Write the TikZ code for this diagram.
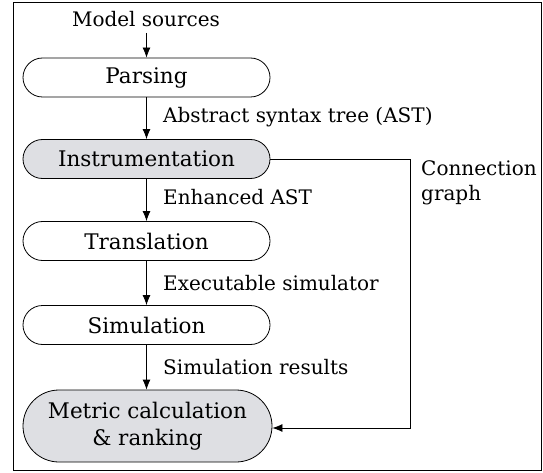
\documentclass[tikz,border=0pt]{standalone}
\usepackage{fontspec}
\setmainfont{DejaVu Serif}
\usetikzlibrary{arrows.meta}
\definecolor{boxgray}{RGB}{222,223,227}
\begin{document}
\begin{tikzpicture}[x=1pt,y=-1pt,
  font=\fontsize{20}{25}\selectfont,
  stage/.style={draw,rounded corners=19.5pt,minimum width=247pt,minimum height=39pt,inner sep=0pt,line width=0.8pt,font=\fontsize{21.5}{27}\selectfont},
  stagehi/.style={stage,fill=boxgray},
  flow/.style={-{Latex[length=10pt,width=8pt]},line width=0.8pt},
  lab/.style={anchor=west,inner sep=0pt}]
\useasboundingbox (0,0) rectangle (543,473);
\draw[line width=0.9pt] (13,2) rectangle (541,470);
\node[inner sep=0pt] (src) at (146,19) {Model sources};
\node[stage] (pars) at (146.5,77.5) {Parsing};
\node[stagehi] (inst) at (146.5,159) {Instrumentation};
\node[stage] (trans) at (146.5,241) {Translation};
\node[stage] (sim) at (146.5,325) {Simulation};
\node[stagehi,minimum width=249pt,minimum height=72pt,rounded corners=36pt,align=center] (met) at (147.5,426) {Metric calculation\\\& ranking};
\coordinate (top) at (146.5,33);
\draw[flow] (top) -- (pars.north);
\draw[flow] (pars) -- (inst);
\draw[flow] (inst) -- (trans);
\draw[flow] (trans) -- (sim);
\draw[flow] (sim) -- (sim |- met.north);
\node[lab] (l1) at (163,117) {Abstract syntax tree (AST)};
\node[lab] (l2) at (163,197) {Enhanced AST};
\node[lab] (l3) at (163,283) {Executable simulator};
\node[lab] (l4) at (163,367) {Simulation results};
\node[lab,align=left] (l5) at (421,183) {Connection\\graph};
\coordinate (c1) at (410,159);
\coordinate (c2) at (410,428);
\draw[flow] (inst.east) -- (c1) -- (c2) -- (met.east |- c2);
\end{tikzpicture}
\end{document}
